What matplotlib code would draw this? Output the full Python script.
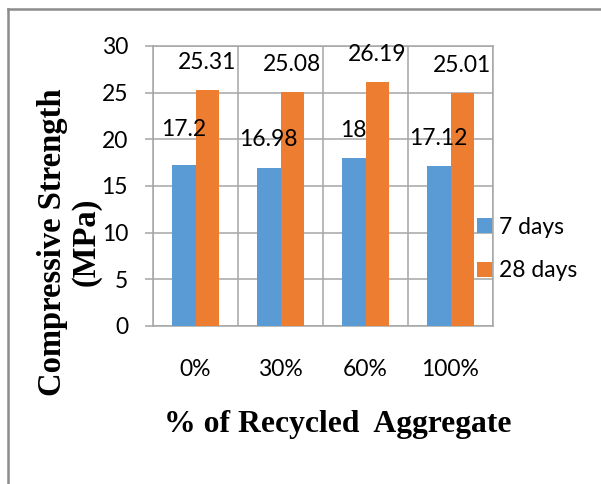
import numpy as np
import matplotlib
matplotlib.use("Agg")
import matplotlib.pyplot as plt
from matplotlib.lines import Line2D

categories = ["0%", "30%", "60%", "100%"]
days_7 = [17.2, 16.98, 18, 17.12]
days_28 = [25.31, 25.08, 26.19, 25.01]
series_names = ["7 days", "28 days"]
y_ticks = [0, 5, 10, 15, 20, 25, 30]

BLUE = "#5B9BD5"
ORANGE = "#ED7D31"
GRID = "#a6a6a6"
NUM_FONT = "Lato"
TITLE_FONT = "Liberation Serif"
FS = 16.5

fig = plt.figure(figsize=(6.01, 4.84), dpi=100)
ax = fig.add_axes([153 / 601, 1 - 326 / 484, 340 / 601, 280 / 484])

x = np.arange(len(categories))
w = 0.282
b1 = ax.bar(x - w / 2, days_7, w, color=BLUE, label=series_names[0], zorder=3)
b2 = ax.bar(x + w / 2, days_28, w, color=ORANGE, label=series_names[1], zorder=3)

# data labels sit above the bars (first 7-day label is pushed up a bit more)
lift_7 = [26, 20, 19.5, 20]
for rect, v, dy in zip(b1, days_7, lift_7):
    ax.annotate(f"{v:g}", (rect.get_x() + rect.get_width() / 2, v),
                xytext=(0, dy), textcoords="offset points",
                ha="center", va="center", fontsize=FS, family=NUM_FONT)
for rect, v in zip(b2, days_28):
    ax.annotate(f"{v:g}", (rect.get_x() + rect.get_width() / 2, v),
                xytext=(0, 19.5), textcoords="offset points",
                ha="center", va="center", fontsize=FS, family=NUM_FONT)

ax.set_xlim(-0.5, len(categories) - 0.5)
ax.set_ylim(0, 30)
ax.set_yticks(y_ticks)
ax.set_xticks(x)
ax.set_xticklabels(categories)
ax.set_xticks(np.arange(len(categories) + 1) - 0.5, minor=True)
ax.grid(True, which="major", axis="y", color=GRID, lw=1.1, zorder=0)
ax.grid(True, which="minor", axis="x", color=GRID, lw=1.1, zorder=0)
ax.tick_params(axis="y", length=6, width=1.1, color=GRID, pad=12, labelsize=FS)
ax.tick_params(axis="x", which="both", length=0, pad=24, labelsize=FS)
for lab in ax.get_xticklabels() + ax.get_yticklabels():
    lab.set_family(NUM_FONT)
for s in ax.spines.values():
    s.set_color(GRID)
    s.set_linewidth(1.1)

ax.legend(loc="center left", bbox_to_anchor=(477 / 601, 1 - 249 / 484),
          bbox_transform=fig.transFigure, frameon=False, borderpad=0,
          borderaxespad=0, handlelength=0.65, handleheight=0.65,
          handletextpad=0.3, labelspacing=1.0,
          prop={"family": NUM_FONT, "size": FS})

fig.text(69 / 601, 1 - 242 / 484, "Compressive Strength\n(MPa)", rotation=90,
         ha="center", va="center", multialignment="center", linespacing=1.1,
         fontsize=23.5, fontweight="bold", family=TITLE_FONT)
fig.text(338 / 601, 1 - 432 / 484, "% of Recycled  Aggregate", ha="center",
         va="baseline", fontsize=22.8, fontweight="bold", family=TITLE_FONT)

# outer frame (top and left edges visible)
fig.add_artist(Line2D([7.5 / 601, 1.0], [1 - 9 / 484] * 2, color="#8c8c8c",
                      lw=1.8, transform=fig.transFigure))
fig.add_artist(Line2D([7.5 / 601] * 2, [0.0, 1 - 9 / 484], color="#8c8c8c",
                      lw=1.8, transform=fig.transFigure))

fig.savefig("out.png", dpi=100)
